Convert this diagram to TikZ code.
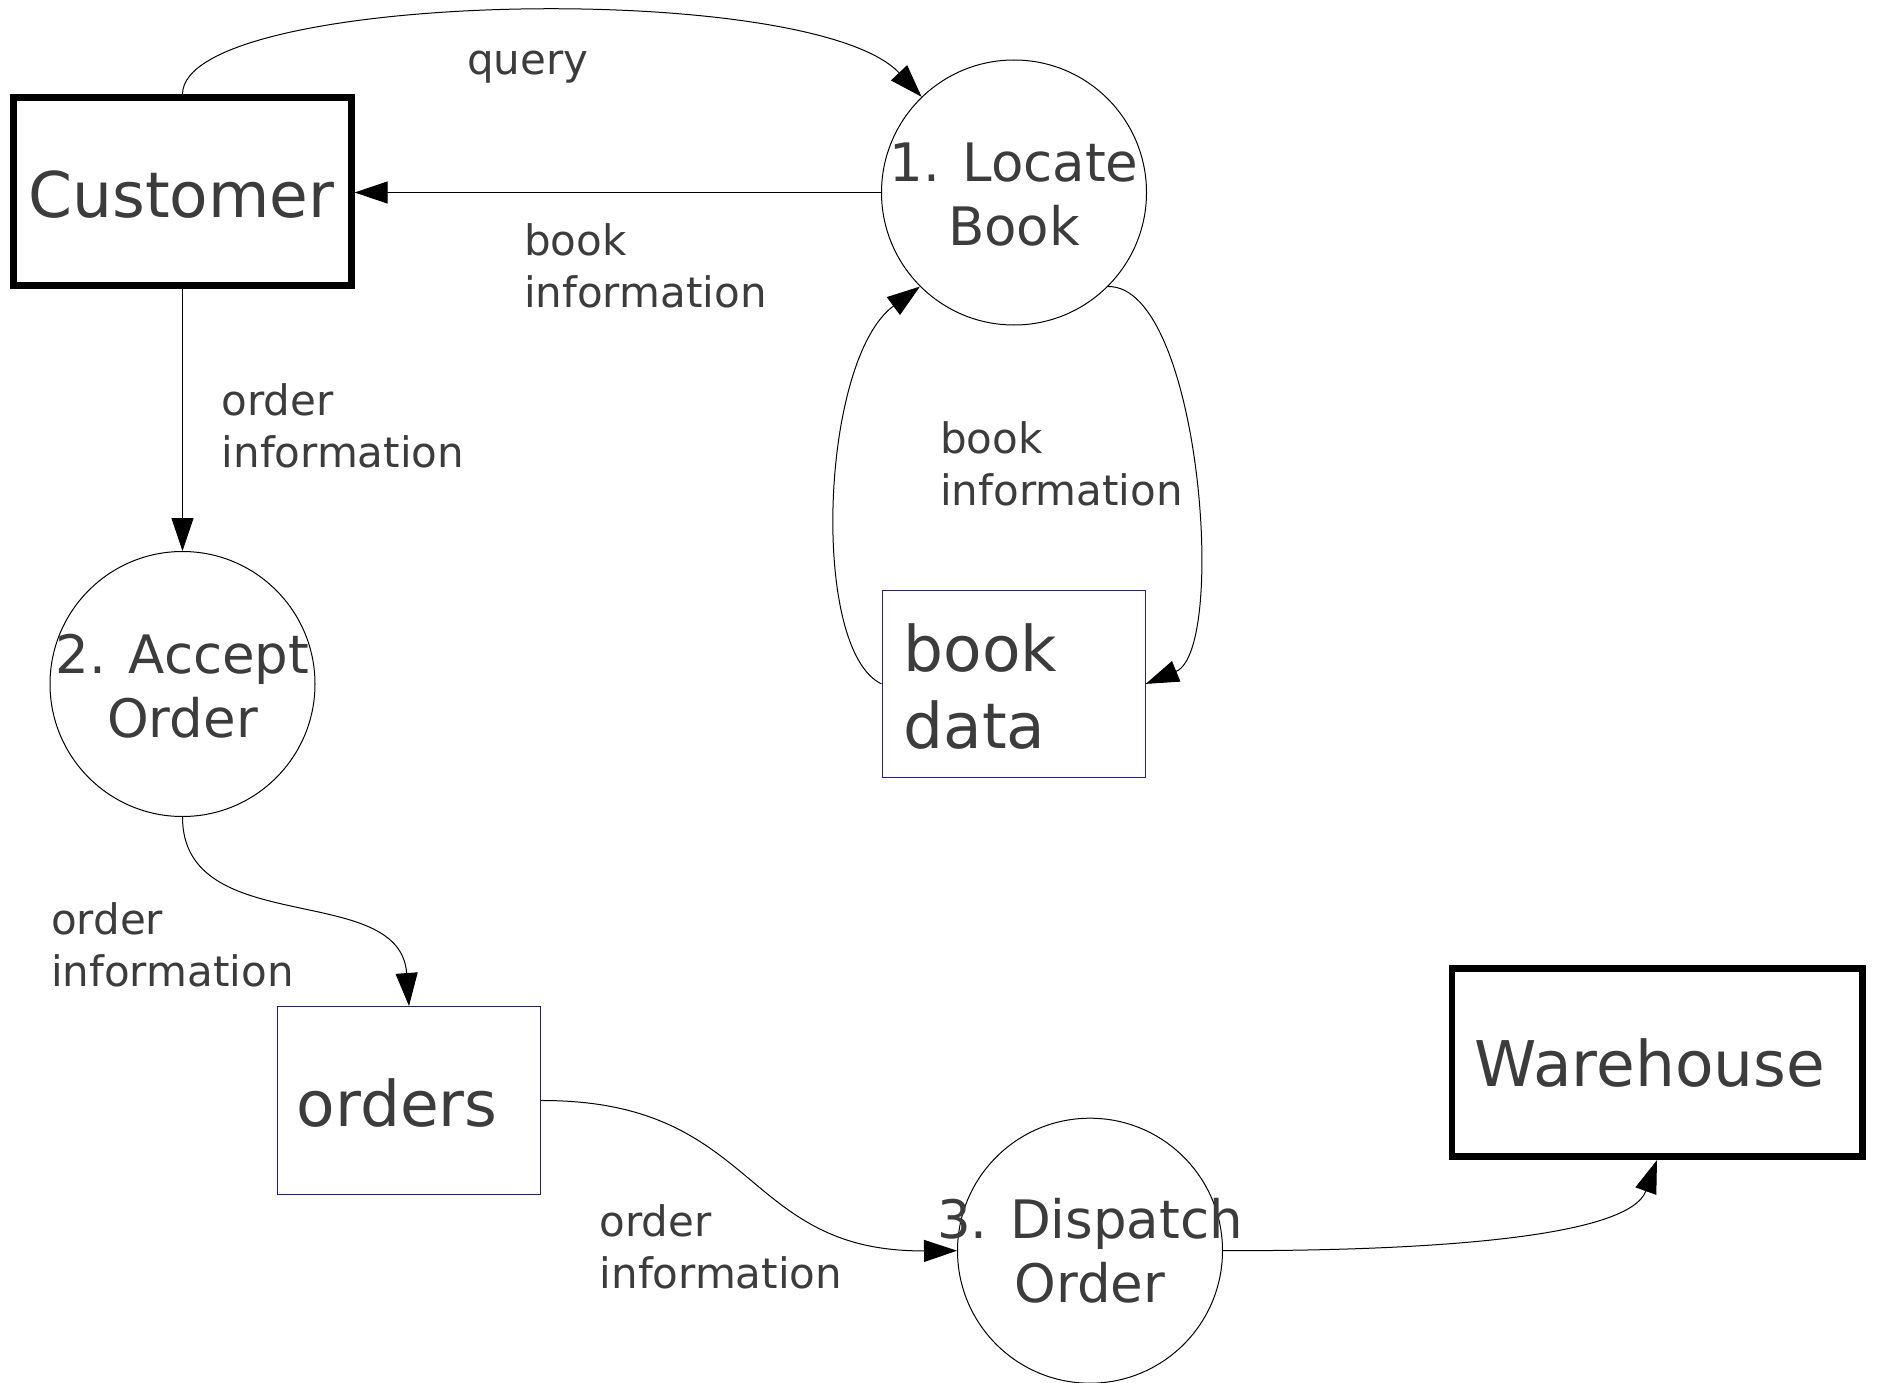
\documentclass[tikz,border=0pt]{standalone}
\usepackage{fontspec}
\setmainfont{DejaVu Sans}
\usetikzlibrary{arrows.meta}
\definecolor{txtgray}{RGB}{60,60,60}
\definecolor{storeblue}{RGB}{30,30,140}
\begin{document}
\begin{tikzpicture}[x=1pt,y=-1pt,
  flow/.style={line width=1pt, -{Triangle[length=33pt,width=22pt]}},
  proc/.style={circle, draw, line width=1pt, minimum size=265pt, inner sep=0pt},
  ext/.style={rectangle, draw, line width=6.7pt, inner sep=0pt},
  store/.style={rectangle, draw=storeblue, line width=1pt, inner sep=0pt},
  lbl/.style={anchor=base west, inner sep=0pt, text=txtgray, font=\fontsize{42}{52}\selectfont},
  ptxt/.style={anchor=base, inner sep=0pt, text=txtgray, font=\fontsize{53}{64}\selectfont},
  btxt/.style={inner sep=0pt, text=txtgray, font=\fontsize{63}{77}\selectfont},
]
\useasboundingbox (0,0) rectangle (1883,1383);
\fill[white] (0,0) rectangle (1883,1383);

% shapes
\node[ext, minimum width=337.5pt, minimum height=187.5pt] (cust) at (182.5,191.5) {};
\node[ext, minimum width=410.3pt, minimum height=188.4pt] (wh) at (1657,1062.5) {};
\node[proc] (c1) at (1014,192.5) {};
\node[proc] (c2) at (182.5,684) {};
\node[proc] (c3) at (1090,1250.7) {};
\node[store, minimum width=263.2pt, minimum height=187.6pt] (bd) at (1013.6,683.9) {};
\node[store, minimum width=263pt, minimum height=188pt] (ord) at (409,1100.5) {};

% texts in shapes
\node[btxt, anchor=base] (custt) at (181.5,218) {Customer};
\node[btxt, anchor=base] (wht) at (1650,1086.7) {Warehouse};
\node[ptxt] (c1t) at (1014,181.7) {\begin{tabular}[t]{@{}c@{}}1. Locate\\Book\end{tabular}};
\node[ptxt] (c2t) at (182.5,673) {\begin{tabular}[t]{@{}c@{}}2. Accept\\Order\end{tabular}};
\node[ptxt] (c3t) at (1090,1238.3) {\begin{tabular}[t]{@{}c@{}}3. Dispatch\\Order\end{tabular}};
\node[btxt, anchor=base west] (bdt) at (903.3,671) {\begin{tabular}[t]{@{}l@{}}book\\data\end{tabular}};
\node[btxt, anchor=base west] (ordt) at (296.6,1126) {orders};

% connectors
\draw[flow] (cust.north) .. controls (182.5,-9) and (810,-22) .. (c1.134);
\draw[flow] (c1.west) -- (c1.west -| cust.east);
\draw[flow] (cust.south) -- (c2.north);
\draw[flow] (bd.west) .. controls (810,650) and (820,360) .. (c1.225);
\draw[flow] (c1.315) .. controls (1200,285) and (1228,650) .. (bd.east);
\draw[flow] (c2.south) .. controls (182.5,940) and (400,880) .. (ord.north);
\draw[flow] (ord.east) .. controls (760,1100) and (740,1252) .. (c3.west);
\draw[flow] (c3.east) .. controls (1450,1251) and (1630,1235) .. (wh.south);

% connector labels
\node[lbl] (lq) at (467,75) {query};
\node[lbl] (lb1) at (524,255) {\begin{tabular}[t]{@{}l@{}}book\\information\end{tabular}};
\node[lbl] (lo1) at (221.5,415) {\begin{tabular}[t]{@{}l@{}}order\\information\end{tabular}};
\node[lbl] (lb2) at (940,453.5) {\begin{tabular}[t]{@{}l@{}}book\\information\end{tabular}};
\node[lbl] (lo2) at (51,934) {\begin{tabular}[t]{@{}l@{}}order\\information\end{tabular}};
\node[lbl] (lo3) at (599.5,1236.6) {\begin{tabular}[t]{@{}l@{}}order\\information\end{tabular}};
\end{tikzpicture}
\end{document}
